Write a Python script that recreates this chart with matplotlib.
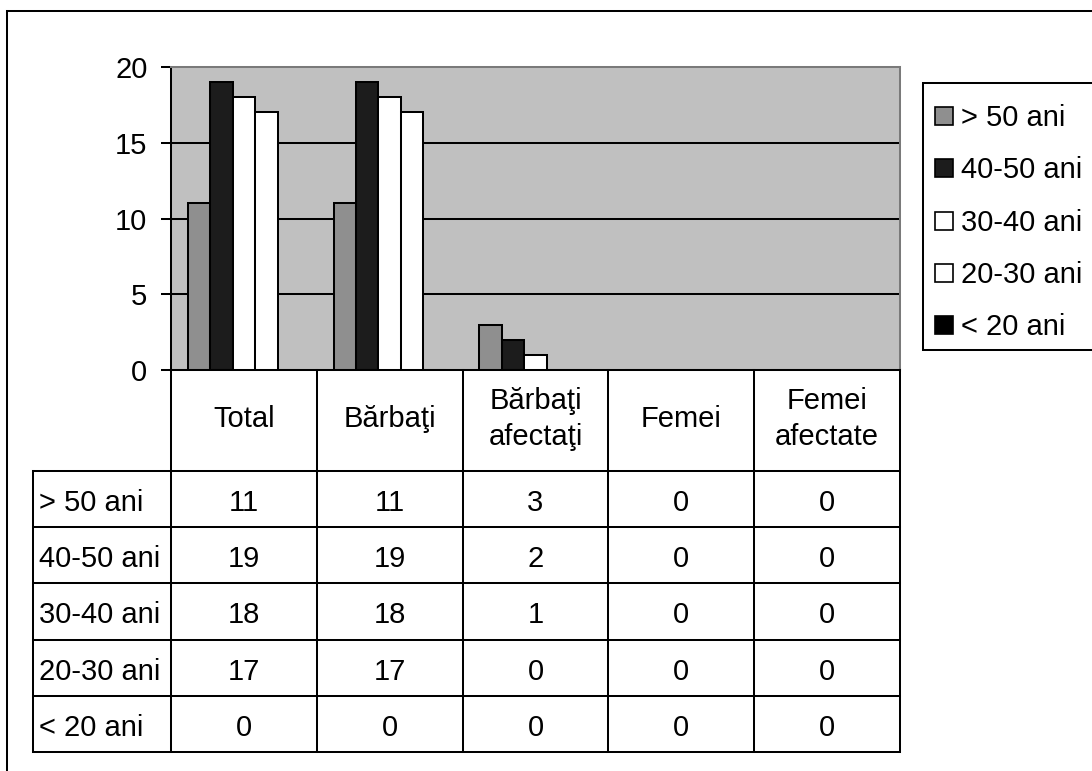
import numpy as np
import matplotlib
matplotlib.use("Agg")
import matplotlib.pyplot as plt
from matplotlib.lines import Line2D
from matplotlib.patches import Rectangle

plt.rcParams["font.family"] = ["Liberation Sans", "DejaVu Sans"]

# categories on the x axis (table columns)
categories = ["Total", "Bărbaţi", "Bărbaţi\nafectaţi", "Femei", "Femei\nafectate"]
# age groups (series / table rows)
age_groups = ["> 50 ani", "40-50 ani", "30-40 ani", "20-30 ani", "< 20 ani"]
over_50 = [11, 11, 3, 0, 0]
age_40_50 = [19, 19, 2, 0, 0]
age_30_40 = [18, 18, 1, 0, 0]
age_20_30 = [17, 17, 0, 0, 0]
under_20 = [0, 0, 0, 0, 0]
series = [over_50, age_40_50, age_30_40, age_20_30, under_20]
colors = ["#8f8f8f", "#1c1c1c", "#ffffff", "#ffffff", "#000000"]
yticks = [0, 5, 10, 15, 20]

W, H = 1092, 771
FS = 21
LW = 1.45

fig = plt.figure(figsize=(W / 100, H / 100), dpi=100)


def fx(px):
    return px / W


def fy(py):
    return 1 - py / H


# ---- bar chart ----
ax = fig.add_axes([fx(171), fy(370), fx(900) - fx(171), fy(67) - fy(370)])
ax.set_facecolor("#c0c0c0")
n = len(series)
gap = 0.3
w = 1.0 / (1 + gap) / n
x = np.arange(len(categories))
for i, (vals, c) in enumerate(zip(series, colors)):
    ax.bar(x + (i - (n - 1) / 2) * w, vals, width=w, color=c,
           edgecolor="black", linewidth=LW, zorder=3)
ax.set_xlim(-0.5, len(categories) - 0.5)
ax.set_ylim(0, 20)
ax.set_yticks(yticks)
ax.set_xticks([])
for y in yticks[1:-1]:
    ax.axhline(y, color="black", linewidth=LW, zorder=1)
ax.tick_params(axis="y", direction="out", length=7, width=LW,
               labelsize=FS, pad=10)
for s in ["left", "bottom"]:
    ax.spines[s].set_color("black")
    ax.spines[s].set_linewidth(LW)
for s in ["top", "right"]:
    ax.spines[s].set_color("#7a7a7a")
    ax.spines[s].set_linewidth(LW)

# ---- data table ----
col_w = 145.8
lab_w = 138 / col_w
row_h = 56.2
head_h = 101 / row_h
tx = fig.add_axes([fx(33), fy(752), fx(900) - fx(33), fy(370) - fy(752)])
tx.set_xlim(-lab_w, len(categories))
tx.set_ylim(head_h + len(age_groups), 0)
tx.axis("off")

line_kw = dict(color="black", linewidth=LW, clip_on=False, solid_capstyle="projecting")
tx.plot([0, len(categories)], [0, 0], **line_kw)
for i in range(len(age_groups) + 1):
    tx.plot([-lab_w, len(categories)], [head_h + i, head_h + i], **line_kw)
tx.plot([-lab_w, -lab_w], [head_h, head_h + len(age_groups)], **line_kw)
for j in range(len(categories) + 1):
    tx.plot([j, j], [0, head_h + len(age_groups)], **line_kw)

for j, cat in enumerate(categories):
    tx.text(j + 0.5, head_h / 2 - 0.03, cat, ha="center", va="center",
            fontsize=FS, linespacing=1.35)
for i, (lab, vals) in enumerate(zip(age_groups, series)):
    yc = head_h + i + 0.57
    tx.text(-lab_w + 0.04, yc, lab, ha="left", va="center", fontsize=FS)
    for j, v in enumerate(vals):
        tx.text(j + 0.5, yc, str(v), ha="center", va="center", fontsize=FS)

# ---- legend (frame drawn separately, open to the right edge) ----
fig.add_artist(Rectangle((fx(923), fy(350)), 1 - fx(923) + 0.01, fy(83) - fy(350),
                         transform=fig.transFigure, facecolor="white",
                         edgecolor="black", linewidth=LW))
handles = [Line2D([], [], marker="s", linestyle="", markersize=13,
                  markerfacecolor=c, markeredgecolor="black", markeredgewidth=1.2)
           for c in colors]
leg = fig.legend(handles, age_groups, loc="upper left",
                 bbox_to_anchor=(fx(935), fy(104)), fontsize=FS,
                 frameon=False, borderpad=0, labelspacing=0.835,
                 handlelength=0.65, handletextpad=0.25, borderaxespad=0)

# ---- outer frame (left and top edges) ----
fig.add_artist(Line2D([fx(6.5), fx(6.5)], [fy(11), 0], color="black", linewidth=LW))
fig.add_artist(Line2D([fx(6.5), 1], [fy(11), fy(11)], color="black", linewidth=LW))

fig.savefig("out.png", dpi=100)
